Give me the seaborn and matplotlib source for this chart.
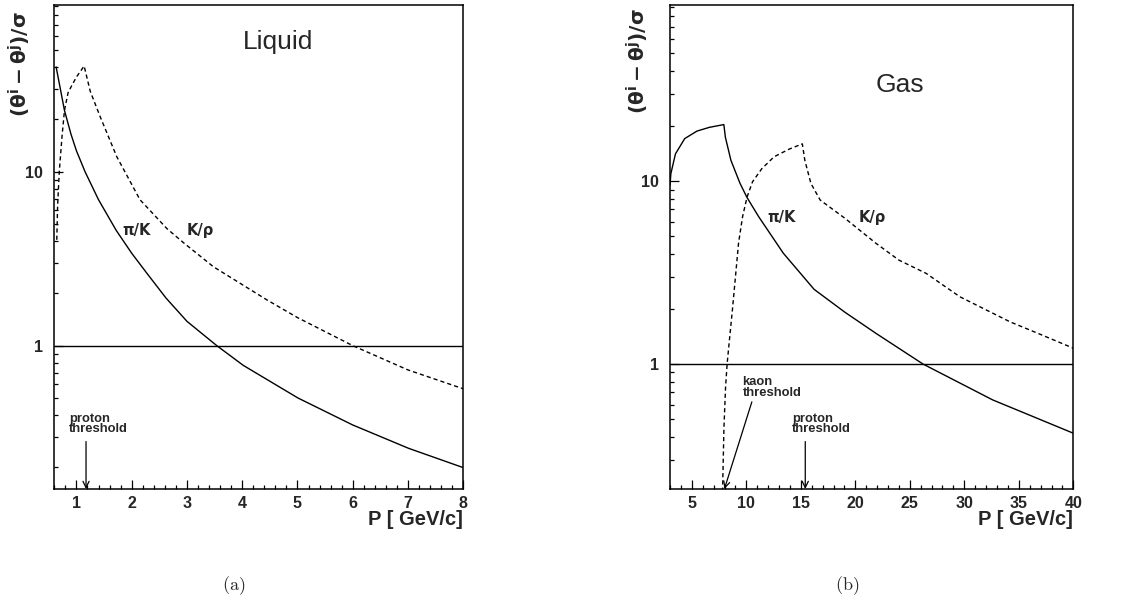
import numpy as np
import pandas as pd
import matplotlib
matplotlib.use("Agg")
import matplotlib.pyplot as plt
import seaborn as sns
from matplotlib.ticker import FixedLocator, LogLocator, NullFormatter, MultipleLocator

# ---------------- data ----------------
# Liquid radiator
liq_pik_p = [0.633, 0.70, 0.784, 0.9, 1.0, 1.156, 1.4, 1.72, 2.0, 2.27, 2.62, 3.0,
             3.54, 4.02, 5.01, 6.0, 7.01, 8.0]
liq_pik_v = [40.0, 31.0, 22.5, 16.5, 13.2, 10.0, 6.9, 4.6, 3.4, 2.62, 1.88, 1.38,
             1.0, 0.77, 0.50, 0.35, 0.257, 0.199]
liq_kp_p = [0.645, 0.66, 0.69, 0.74, 0.784, 0.85, 0.91, 1.0, 1.14, 1.25, 1.43,
            1.73, 2.15, 2.64, 2.94, 3.48, 4.45, 5.0, 6.0, 7.0, 8.0]
liq_kp_v = [4.06, 6.4, 10.0, 16.0, 22.5, 28.5, 31.0, 35.0, 40.5, 29.0, 20.7,
            12.2, 6.9, 4.7, 3.9, 2.84, 1.83, 1.45, 1.0, 0.725, 0.565]

# Gas radiator
gas_pik_p = [3.0, 3.08, 3.5, 4.35, 5.48, 6.61, 7.94, 8.08, 8.59, 9.43, 10.06, 11.13,
             13.39, 16.22, 19.04, 21.9, 26.2, 32.6, 40.0]
gas_pik_v = [9.5, 11.0, 14.1, 17.1, 18.8, 19.7, 20.4, 17.4, 13.0, 9.71, 8.15, 6.4,
             4.04, 2.56, 1.92, 1.47, 1.0, 0.636, 0.418]
gas_kp_p = [7.82, 7.95, 8.1, 8.24, 8.45, 8.73, 9.01, 9.29, 9.66, 10.06, 10.57, 11.42,
            12.55, 13.96, 15.14, 15.37, 15.93, 16.78, 19.04, 21.9, 24.0, 26.5, 29.6,
            34.2, 37.0, 40.0]
gas_kp_v = [0.2, 0.45, 0.75, 1.0, 1.35, 1.99, 3.02, 4.59, 6.4, 8.15, 9.92, 11.7,
            13.6, 15.0, 16.0, 13.0, 9.71, 7.88, 6.27, 4.57, 3.7, 3.13, 2.33,
            1.70, 1.45, 1.22]

separation_limit = 1.0
y_ticks = [1, 10]
y_tick_labels = ["1", "10"]
liq_x_ticks = [1, 2, 3, 4, 5, 6, 7, 8]
gas_x_ticks = [5, 10, 15, 20, 25, 30, 35, 40]
liq_threshold_proton = 1.174
gas_threshold_kaon = 7.99
gas_threshold_proton = 15.41

# ---------------- style ----------------
sns.set_style("ticks")
plt.rcParams["font.family"] = ["Liberation Sans", "DejaVu Sans"]
plt.rcParams["mathtext.fontset"] = "dejavusans"

fig = plt.figure(figsize=(11.27, 6.01), dpi=100)
W, H = 1127, 601
bottom = (H - 489) / H
height = 484 / H
axL = fig.add_axes([54.3 / W, bottom, 409 / W, height])
axR = fig.add_axes([670 / W, bottom, 403.3 / W, height])


def frame(p, v, name):
    return pd.DataFrame({"p": p, "ratio": v, "pair": name})


def draw(ax, pik_p, pik_v, kp_p, kp_v, xlim, ylim, xticks, xminor):
    dfa = frame(pik_p, pik_v, "pi/K")
    dfb = frame(kp_p, kp_v, "K/p")
    sns.lineplot(data=dfa, x="p", y="ratio", ax=ax, color="black", lw=1.0,
                 errorbar=None, legend=False)
    sns.lineplot(data=dfb, x="p", y="ratio", ax=ax, color="black", lw=1.0,
                 linestyle=(0, (3, 2.2)), errorbar=None, legend=False)
    ax.axhline(separation_limit, color="black", lw=1.0)
    ax.set_yscale("log")
    ax.set_xlim(*xlim)
    ax.set_ylim(*ylim)
    ax.yaxis.set_major_locator(FixedLocator(y_ticks))
    ax.set_yticklabels(y_tick_labels)
    ax.yaxis.set_minor_locator(LogLocator(base=10, subs=np.arange(2, 10)))
    ax.yaxis.set_minor_formatter(NullFormatter())
    ax.set_xticks(xticks)
    ax.set_xticklabels([str(t) for t in xticks])
    ax.xaxis.set_minor_locator(MultipleLocator(xminor))
    ax.set_xlabel("")
    ax.set_ylabel("")
    for s in ax.spines.values():
        s.set_visible(True)
        s.set_linewidth(1.1)
        s.set_color("black")
    ax.tick_params(which="both", direction="in", top=False, right=False, color="black",
                   width=0.9)
    ax.tick_params(which="major", length=6.5)
    ax.tick_params(which="minor", length=3)
    ax.tick_params(axis="x", which="major", pad=5, labelsize=11.5)
    ax.tick_params(axis="y", which="major", pad=8, labelsize=11.5)
    for lab in ax.get_xticklabels() + ax.get_yticklabels():
        lab.set_fontweight("bold")
    ax.text(1.0, -0.062, "P [ GeV/c]", transform=ax.transAxes, ha="right", va="center",
            fontsize=14.5, fontweight="bold")


draw(axL, liq_pik_p, liq_pik_v, liq_kp_p, liq_kp_v, (0.6, 8.0), (0.15, 90.8),
     liq_x_ticks, 0.2)
draw(axR, gas_pik_p, gas_pik_v, gas_kp_p, gas_kp_v, (3.0, 40.0), (0.207, 92.0),
     gas_x_ticks, 1.0)

# titles
axL.text(0.547, 0.9236, "Liquid", transform=axL.transAxes, ha="center", va="center",
         fontsize=19)
axR.text(0.570, 0.8347, "Gas", transform=axR.transAxes, ha="center", va="center",
         fontsize=19)

# curve labels
lab_kw = dict(ha="center", va="center", fontsize=10.5, fontweight="bold",
              family=["DejaVu Sans"])
axL.text(0.2015, 0.535, "π/K", transform=axL.transAxes, **lab_kw)
axL.text(0.356, 0.535, "K/ρ", transform=axL.transAxes, **lab_kw)
axR.text(0.277, 0.560, "π/K", transform=axR.transAxes, **lab_kw)
axR.text(0.502, 0.560, "K/ρ", transform=axR.transAxes, **lab_kw)

# threshold annotations
thr_kw = dict(ha="left", va="top", fontsize=9.4, fontweight="bold", linespacing=0.82)
arrow = dict(arrowstyle="->,head_length=0.45,head_width=0.22", color="black", lw=0.9,
             shrinkA=0, shrinkB=0)
axL.text(0.036, 0.157, "proton\nthreshold", transform=axL.transAxes, **thr_kw)
axL.annotate("", xy=(liq_threshold_proton, 0), xycoords=("data", "axes fraction"),
             xytext=(liq_threshold_proton, 0.098), textcoords=("data", "axes fraction"),
             arrowprops=arrow)
axR.text(0.180, 0.233, "kaon\nthreshold", transform=axR.transAxes, **thr_kw)
axR.annotate("", xy=(gas_threshold_kaon, 0), xycoords=("data", "axes fraction"),
             xytext=(10.51, 0.180), textcoords=("data", "axes fraction"),
             arrowprops=arrow)
axR.text(0.303, 0.157, "proton\nthreshold", transform=axR.transAxes, **thr_kw)
axR.annotate("", xy=(gas_threshold_proton, 0), xycoords=("data", "axes fraction"),
             xytext=(gas_threshold_proton, 0.098), textcoords=("data", "axes fraction"),
             arrowprops=arrow)

# y labels (ROOT style, at the top of the axis)
ylab = r"$\mathbf{(\theta^i - \theta^j)/\sigma}$"
fig.text(20 / W, 1 - 11 / H, ylab, rotation=90, ha="center", va="top", fontsize=14.5)
fig.text(638 / W, 1 - 8 / H, ylab, rotation=90, ha="center", va="top", fontsize=14.5)

# captions (LaTeX-like serif)
plt.rcParams["mathtext.fontset"] = "cm"
fig.text(234 / W, 1 - 586 / H, r"$\mathrm{(a)}$", ha="center", va="center", fontsize=13)
fig.text(847 / W, 1 - 586 / H, r"$\mathrm{(b)}$", ha="center", va="center", fontsize=13)

fig.savefig("out.png", dpi=100, facecolor="white")
